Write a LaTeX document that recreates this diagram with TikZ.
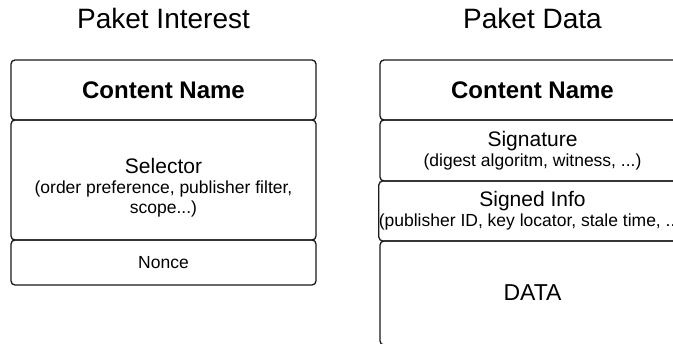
\documentclass[tikz,border=0pt]{standalone}
\usepackage{fontspec}
\setmainfont{Liberation Sans}
\usetikzlibrary{positioning}

\begin{document}
\begin{tikzpicture}[
    x=1pt, y=1pt,
    node distance=0pt,
    title/.style={anchor=base, font=\fontsize{28}{32}\selectfont},
    row/.style={rectangle, draw=black!90, line width=1.3pt, rounded corners=4pt, minimum width=305pt, inner sep=0pt, outer sep=0pt, align=center, font=\fontsize{17.5}{20}\selectfont},
    namerow/.style={row, minimum height=60pt, font=\fontsize{24}{28}\selectfont\bfseries}
]
    \useasboundingbox (0,0) rectangle (673,-344);
    \clip (0,0) rectangle (673,-344);

    % Paket Interest
    \node[title] (ititle) at (163.5,-29) {Paket Interest};
    \node[namerow, anchor=north west] (iname) at (11,-60) {Content Name};
    \node[row, below=of iname, minimum height=120pt] (isel) {\rule{0pt}{31pt}{\fontsize{21}{20}\selectfont Selector}\\(order preference, publisher filter,\\scope...)};
    \node[row, below=of isel, minimum height=45pt] (inonce) {Nonce};

    % Paket Data
    \node[title] (dtitle) at (532.5,-29) {Paket Data};
    \node[namerow, anchor=north west] (dname) at (380,-60) {Content Name};
    \node[row, below=of dname, minimum height=61pt] (dsig) {{\fontsize{21}{20}\selectfont Signature}\\(digest algoritm, witness, ...)};
    \node[row, below=of dsig, minimum height=60pt] (dinfo) {{\fontsize{21}{20}\selectfont Signed Info}\\(publisher ID, key locator, stale time, ...)};
    \node[row, below=of dinfo, minimum height=104pt, font=\fontsize{23}{28}\selectfont] (ddata) {DATA};
\end{tikzpicture}
\end{document}
